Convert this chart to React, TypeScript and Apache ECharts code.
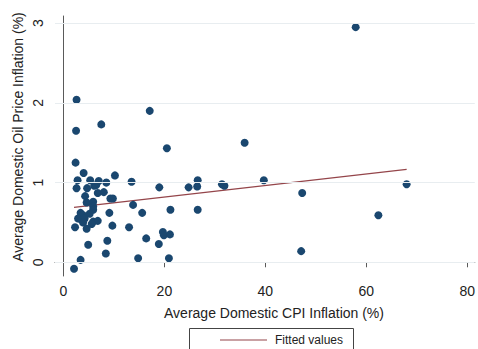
import React, { useEffect, useRef } from "react";
import * as echarts from "echarts";

// Average domestic CPI inflation (%) and average domestic oil price inflation (%)
const cpiInflation = [
  57.9, 2.6, 2.5, 7.5, 17.1, 20.5, 35.9,
  2.4, 4.0, 10.2,
  2.8, 5.3, 7.0, 8.5,
  2.6, 4.7, 6.1, 6.5,
  4.3, 6.8, 8.0,
  4.6, 5.9, 5.9, 9.3, 9.8,
  13.5, 13.8, 19.0, 24.8, 26.6, 26.5, 31.4, 31.9, 39.7, 47.3, 68.0, 62.4, 47.1,
  21.2, 26.6, 15.6, 9.1,
  5.9, 3.4, 3.9, 5.2,
  2.9, 3.6, 4.2, 3.9, 5.9, 6.8, 5.6,
  2.3, 4.6, 9.7, 13.0,
  8.7, 4.9, 8.4, 3.4, 2.1,
  14.8, 20.9, 16.4, 18.9, 19.7, 19.9, 21.1,
];
const oilInflation = [
  2.95, 2.04, 1.65, 1.73, 1.90, 1.43, 1.50,
  1.25, 1.12, 1.09,
  1.03, 1.03, 1.02, 1.00,
  0.93, 0.93, 0.96, 0.97,
  0.83, 0.87, 0.88,
  0.75, 0.76, 0.70, 0.80, 0.80,
  1.01, 0.72, 0.94, 0.94, 1.03, 0.95, 0.98, 0.96, 1.03, 0.87, 0.98, 0.59, 0.14,
  0.66, 0.66, 0.62, 0.62,
  0.66, 0.62, 0.59, 0.61,
  0.55, 0.53, 0.55, 0.50, 0.51, 0.52, 0.48,
  0.44, 0.42, 0.46, 0.44,
  0.27, 0.22, 0.11, 0.03, -0.08,
  0.05, 0.05, 0.30, 0.23, 0.38, 0.34, 0.35,
];
// Fitted values line endpoints
const fittedX = [2.1, 68.0];
const fittedY = [0.69, 1.165];

const xTicks = [0, 20, 40, 60, 80];
const yTicks = [0, 1, 2, 3];

const FONT = "'Liberation Sans', Arial, sans-serif";
const DOT = "#1a476f";
const FIT = "#94454a";

export default function App() {
  const ref = useRef<HTMLDivElement>(null);

  useEffect(() => {
    if (!ref.current) return;
    const chart = echarts.init(ref.current, undefined, { renderer: "svg" });
    const points = cpiInflation.map((x, i) => [x, oilInflation[i]]);
    const fitted = fittedX.map((x, i) => [x, fittedY[i]]);

    chart.setOption({
      animation: false,
      backgroundColor: "#ffffff",
      grid: { left: 55, right: 0, top: 16, bottom: 73, containLabel: false },
      xAxis: {
        type: "value",
        min: -1.67,
        max: 81.5,
        axisLine: { show: true, lineStyle: { color: "#5a5a5a", width: 1 } },
        axisTick: {
          show: true,
          customValues: xTicks,
          length: 5,
          inside: false,
          lineStyle: { color: "#5a5a5a" },
        },
        axisLabel: {
          customValues: xTicks,
          margin: 8,
          fontSize: 14,
          fontFamily: FONT,
          color: "#222",
          showMaxLabel: true,
          showMinLabel: true,
        },
        splitLine: { show: false },
      },
      yAxis: {
        type: "value",
        min: -0.172,
        max: 3.09,
        axisLine: { show: true, lineStyle: { color: "#5a5a5a", width: 1 } },
        axisTick: {
          show: true,
          customValues: yTicks,
          length: 5,
          inside: false,
          lineStyle: { color: "#5a5a5a" },
        },
        axisLabel: {
          customValues: yTicks,
          rotate: 90,
          margin: 10,
          fontSize: 14,
          fontFamily: FONT,
          color: "#222",
        },
        splitLine: { show: false },
      },
      graphic: [
        {
          type: "text",
          x: 18,
          y: 137,
          rotation: Math.PI / 2,
          style: {
            text: "Average Domestic Oil Price Inflation (%)",
            font: `14px ${FONT}`,
            fill: "#222",
            textAlign: "center",
            textVerticalAlign: "middle",
          },
        },
        {
          type: "text",
          x: 274,
          y: 313,
          style: {
            text: "Average Domestic CPI Inflation (%)",
            font: `14px ${FONT}`,
            fill: "#222",
            textAlign: "center",
            textVerticalAlign: "middle",
          },
        },
        {
          type: "rect",
          shape: { x: 189.5, y: 328.5, width: 164, height: 40 },
          style: { fill: "#ffffff", stroke: "#444", lineWidth: 1 },
        },
        {
          type: "line",
          shape: { x1: 220, y1: 340, x2: 267, y2: 340 },
          style: { stroke: FIT, lineWidth: 1.2 },
        },
        {
          type: "text",
          x: 275,
          y: 340,
          style: {
            text: "Fitted values",
            font: `12px ${FONT}`,
            fill: "#222",
            textAlign: "left",
            textVerticalAlign: "middle",
          },
        },
      ],
      series: [
        {
          type: "line",
          data: [],
          z: 0,
          silent: true,
          markLine: {
            silent: true,
            symbol: ["none", "none"],
            label: { show: false },
            lineStyle: { color: "#e8edf0", type: "solid", width: 1 },
            data: yTicks.map((v) => ({ yAxis: v })),
          },
        },
        {
          type: "line",
          name: "Fitted values",
          data: fitted,
          showSymbol: false,
          symbol: "none",
          z: 2,
          lineStyle: { color: FIT, width: 1.2 },
        },
        {
          type: "scatter",
          name: "points",
          data: points,
          symbol: "circle",
          symbolSize: 8,
          z: 3,
          itemStyle: { color: DOT, opacity: 1 },
        },
      ],
    });
    return () => chart.dispose();
  }, []);

  return (
    <div
      ref={ref}
      style={{ position: "fixed", left: 0, top: 0, width: 478, height: 349 }}
    />
  );
}
